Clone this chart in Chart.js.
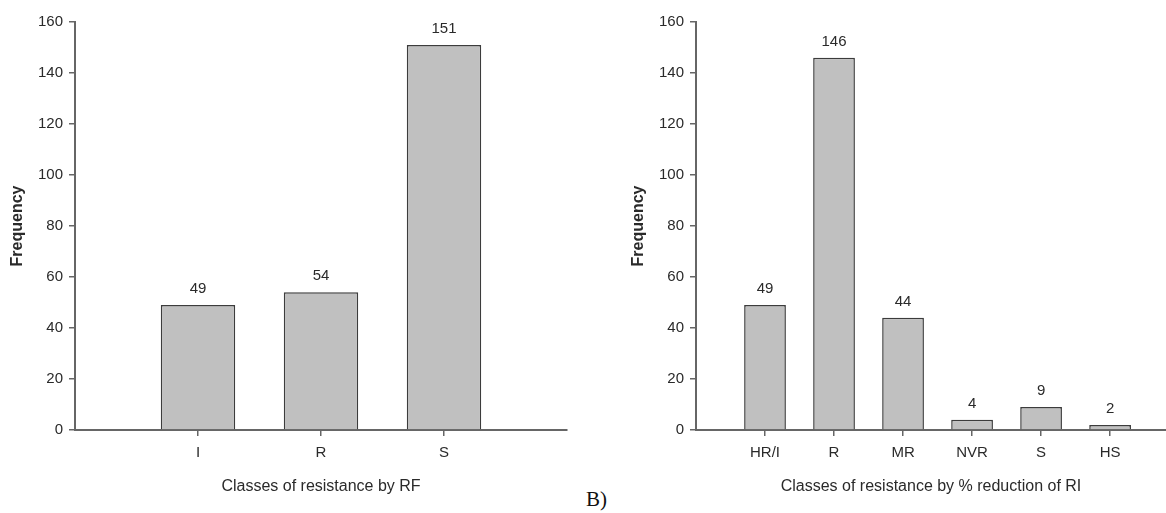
<!DOCTYPE html>
<html>
<head>
<meta charset="utf-8">
<script src="https://cdn.jsdelivr.net/npm/chart.js@4.4.0/dist/chart.umd.min.js"></script>
<style>
  html, body { margin: 0; padding: 0; background: #fff; overflow: hidden; }
  body { width: 1166px; height: 513px; position: relative; }
  #wrap-rf { position: absolute; left: 0; top: 0; width: 580px; height: 513px; }
  #wrap-ri { position: absolute; left: 621px; top: 0; width: 545px; height: 513px; }
  #tag-b { position: absolute; left: 586px; top: 487px; font-family: 'Liberation Serif', 'Times New Roman', serif; font-size: 21px; color: #111; }
</style>
</head>
<body>
<div id="wrap-rf"><canvas id="chart-rf" width="580" height="513"></canvas></div>
<div id="wrap-ri"><canvas id="chart-ri" width="545" height="513"></canvas></div>
<div id="tag-b">B)</div>
<script>
// left panel - classes by RF
const rfClasses = ['I', 'R', 'S'];
const rfCounts  = [49, 54, 151];

// right panel - classes by % reduction of RI
const riClasses = ['HR/I', 'R', 'MR', 'NVR', 'S', 'HS'];
const riCounts  = [49, 146, 44, 4, 9, 2];

const yMin  = 0;
const yMax  = 160;
const yStep = 20;

const FONT = '"Liberation Sans", Arial, Helvetica, sans-serif';
const AXIS = '#666';
const TEXT = '#2a2a2a';

Chart.defaults.font.family = FONT;
Chart.defaults.color = TEXT;

// numbers over the bars
const barValueLabels = {
  id: 'barValueLabels',
  afterDatasetsDraw(chart) {
    const ctx  = chart.ctx;
    const meta = chart.getDatasetMeta(0);
    const ds   = chart.data.datasets[0];
    ctx.save();
    ctx.font = '15px ' + FONT;
    ctx.fillStyle = TEXT;
    ctx.textAlign = 'center';
    ctx.textBaseline = 'middle';
    meta.data.forEach(function(bar, i) {
      ctx.fillText(String(ds.data[i].y), bar.x, bar.y - 16);
    });
    ctx.restore();
  }
};

function makeChart(id, classes, counts, xTitle, xMax, padRight) {
  const points = counts.map(function(v, i) { return { x: i + 1, y: v }; });
  return new Chart(document.getElementById(id), {
    type: 'bar',
    data: {
      datasets: [{
        data: points,
        backgroundColor: '#c0c0c0',
        borderColor: '#3c3c3c',
        borderWidth: 1.5,
        borderSkipped: 'bottom',
        barPercentage: 0.605,
        categoryPercentage: 1
      }]
    },
    options: {
      responsive: false,
      animation: false,
      devicePixelRatio: 1,
      layout: { padding: { left: 0, top: 22, right: padRight, bottom: 0 } },
      plugins: { legend: { display: false }, tooltip: { enabled: false } },
      scales: {
        x: {
          type: 'linear',
          min: 0,
          max: xMax,
          offset: false,
          afterBuildTicks: function(scale) {
            scale.ticks = classes.map(function(c, i) { return { value: i + 1 }; });
          },
          afterFit: function(scale) { scale.height = 83; },
          ticks: {
            autoSkip: false,
            maxRotation: 0,
            padding: 8,
            font: { size: 15 },
            color: TEXT,
            callback: function(value) { return classes[value - 1]; }
          },
          grid: { offset: false, drawOnChartArea: false, drawTicks: true, tickLength: 6, color: AXIS, lineWidth: 1.5 },
          border: { display: true, color: AXIS, width: 2 },
          title: {
            display: true,
            text: xTitle,
            font: { size: 16 },
            color: TEXT,
            padding: { top: 4, bottom: 17 }
          }
        },
        y: {
          min: yMin,
          max: yMax,
          afterFit: function(scale) { scale.width = 75; },
          ticks: { stepSize: yStep, padding: 6, font: { size: 15 }, color: TEXT },
          grid: { drawOnChartArea: false, drawTicks: true, tickLength: 6, color: AXIS, lineWidth: 1.5 },
          border: { display: true, color: AXIS, width: 2 },
          title: {
            display: true,
            text: 'Frequency',
            font: { size: 16, weight: 'bold' },
            color: TEXT,
            padding: { top: 8, bottom: 4 }
          }
        }
      }
    },
    plugins: [barValueLabels]
  });
}

makeChart('chart-rf', rfClasses, rfCounts, 'Classes of resistance by RF', 4, 13);
makeChart('chart-ri', riClasses, riCounts, 'Classes of resistance by % reduction of RI', 6.81, 0);
</script>
</body>
</html>
